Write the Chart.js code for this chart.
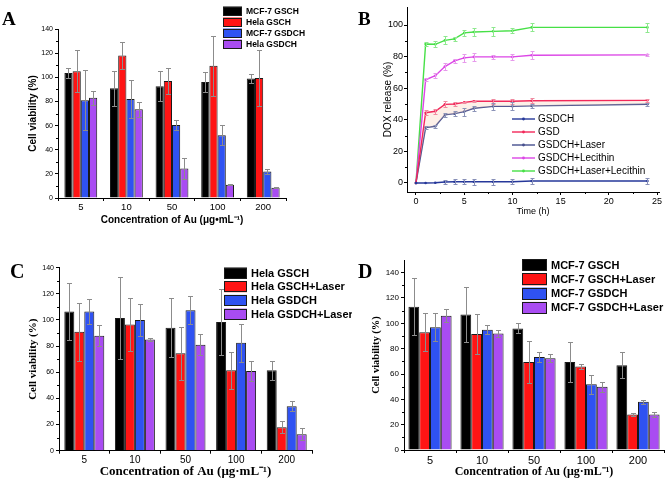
<!DOCTYPE html>
<html><head><meta charset="utf-8">
<script src="https://cdn.jsdelivr.net/npm/chart.js@4.4.1/dist/chart.umd.min.js"></script>
<style>
html,body{margin:0;padding:0;background:#fff;width:669px;height:482px;overflow:hidden;position:relative}
canvas{position:absolute;display:block;background:#fff}
</style></head><body>
<canvas id="cA" width="335" height="240" style="left:0;top:0"></canvas>
<canvas id="cB" width="334" height="240" style="left:335px;top:0"></canvas>
<canvas id="cC" width="352" height="242" style="left:0;top:240px"></canvas>
<canvas id="cD" width="317" height="242" style="left:352px;top:240px"></canvas>
<script>
// ---------------- DATA ----------------
const concentrations = ['5', '10', '50', '100', '200'];

// Panel A
const aNames = ['MCF-7 GSCH', 'Hela GSCH', 'MCF-7 GSDCH', 'Hela GSDCH'];
const aMcf7Gsch = [103.5, 91, 92.5, 96, 99];
const aMcf7GschErr = [4, 14.5, 12.5, 8, 4];
const aHelaGsch = [105, 118, 97, 109.5, 99.5];
const aHelaGschErr = [17.5, 11.5, 11, 25, 23.5];
const aMcf7Gsdch = [81, 82, 60.5, 52, 22];
const aMcf7GsdchErr = [25, 15.5, 4, 8.5, 2];
const aHelaGsdch = [83, 73.5, 24.5, 11, 8.5];
const aHelaGsdchErr = [6, 6, 8.5, 0.5, 0.3];

// Panel B
const bTimes = [0, 1, 2, 3, 4, 5, 6, 8, 10, 12, 24];
const bNames = ['GSDCH', 'GSD', 'GSDCH+Laser', 'GSDCH+Lecithin', 'GSDCH+Laser+Lecithin'];
const bGsdch = [0, 0, 0.2, 0.6, 0.8, 0.8, 0.8, 0.8, 0.8, 1.3, 1.3];
const bGsdchErr = [0, 0, 0, 1.5, 1.5, 1.5, 2, 2, 1.5, 2, 2];
const bGsd = [0, 44.5, 45.4, 49.8, 50, 51, 51.7, 51.7, 51.7, 52.1, 52.3];
const bGsdErr = [0, 1.5, 1.5, 2, 1, 0.5, 0.5, 1.5, 1.5, 1.5, 1];
const bLaser = [0, 35.1, 35.9, 43.1, 43.9, 45.2, 47.3, 48.5, 48.5, 48.8, 49.8];
const bLaserErr = [0, 1, 1, 1.5, 1.5, 2.5, 1.5, 2, 2.5, 1.5, 1];
const bLecithin = [0, 65.3, 67.9, 73.7, 77.3, 79.2, 79.8, 79.8, 79.8, 80.9, 81.1];
const bLecithinErr = [0, 1, 1.5, 2, 1.5, 2.5, 2.5, 1.5, 2, 2.5, 0.5];
const bLaserLecithin = [0, 88, 87.8, 90.3, 91.2, 95, 95.6, 96, 96.4, 98.5, 98.5];
const bLaserLecithinErr = [0, 1.5, 2, 2.5, 1.5, 2, 2.5, 3, 1.5, 2.5, 3];
const bYTicks = [0, 20, 40, 60, 80, 100];
const bXTicks = [0, 5, 10, 15, 20, 25];

// Panel C
const cNames = ['Hela GSCH', 'Hela GSCH+Laser', 'Hela GSDCH', 'Hela GSDCH+Laser'];
const cHelaGsch = [106.5, 101.5, 94, 98.5, 61.5];
const cHelaGschErr = [21.5, 31.5, 22.5, 25.5, 7.5];
const cHelaGschLaser = [91, 96.5, 74.5, 61.5, 18];
const cHelaGschLaserErr = [22, 20.5, 20.5, 14, 4.5];
const cHelaGsdch = [106.5, 100, 107.5, 82.5, 34];
const cHelaGsdchErr = [9.5, 12, 10.5, 14.5, 4];
const cHelaGsdchLaser = [88, 85, 81, 61, 12.5];
const cHelaGsdchLaserErr = [8, 1, 8, 7.5, 4.5];

// Panel D
const dNames = ['MCF-7 GSCH', 'MCF-7 GSCH+Laser', 'MCF-7 GSDCH', 'MCF-7 GSDCH+Laser'];
const dMcf7Gsch = [113, 107, 96, 69.5, 67];
const dMcf7GschErr = [22.5, 21.5, 4, 15.5, 10];
const dMcf7GschLaser = [93, 91.5, 69.5, 66, 28];
const dMcf7GschLaserErr = [15, 16, 16.5, 2, 1];
const dMcf7Gsdch = [97, 95, 73.5, 52, 38];
const dMcf7GsdchErr = [11, 3.5, 4, 7.5, 1.5];
const dMcf7GsdchLaser = [106, 92, 72.5, 50, 28];
const dMcf7GsdchLaserErr = [5, 3, 3, 4, 2];

// ---------------- STYLE / PLUGINS ----------------
const SANS = '"Liberation Sans", Arial, sans-serif';
const SERIF = '"Liberation Serif", "Times New Roman", serif';
const barColors = ['#000000', '#ff1414', '#2f52f2', '#a94cf2'];
const lineColors = ['#26389a', '#f2285a', '#46508e', '#dc46e6', '#46e046'];
const errLineColors = ['#8890b8', '#f08aa0', '#8c94b8', '#e79aec', '#8ee88e'];

Chart.defaults.font.family = SANS;
Chart.defaults.color = '#000';
Chart.defaults.animation = false;

const decor = {
  id: 'decor',
  afterDatasetsDraw(chart, args, o) {
    const ctx = chart.ctx, ys = chart.scales.y;
    ctx.save();
    chart.data.datasets.forEach((ds, i) => {
      if (!ds.errors) return;
      const meta = chart.getDatasetMeta(i);
      ctx.strokeStyle = ds.errorColor || '#8c8c8c';
      ctx.lineWidth = 1;
      meta.data.forEach((el, j) => {
        const e = ds.errors[j];
        if (!e) return;
        const raw = ds.data[j];
        const v = (typeof raw === 'object') ? raw.y : raw;
        const x = Math.round(el.x) + 0.5;
        const yt = Math.round(ys.getPixelForValue(v + e)) + 0.5;
        const yb = Math.round(ys.getPixelForValue(v - e)) + 0.5;
        const c = o.cap || 2.5;
        ctx.beginPath();
        ctx.moveTo(x, yt); ctx.lineTo(x, yb);
        ctx.moveTo(x - c, yt); ctx.lineTo(x + c, yt);
        ctx.moveTo(x - c, yb); ctx.lineTo(x + c, yb);
        ctx.stroke();
      });
    });
    ctx.restore();
  },
  afterDraw(chart, args, o) {
    const ctx = chart.ctx;
    ctx.save();
    // minor ticks
    ctx.strokeStyle = '#000'; ctx.lineWidth = 1;
    ctx.beginPath();
    const ys = chart.scales.y;
    const yt = ys.ticks;
    for (let k = 0; k < yt.length - 1; k++) {
      const py = Math.round(ys.getPixelForValue((yt[k].value + yt[k + 1].value) / 2)) + 0.5;
      ctx.moveTo(ys.right - 2, py); ctx.lineTo(ys.right, py);
    }
    if (o.minorX) {
      const xs = chart.scales.x, xt = xs.ticks;
      for (let k = 0; k < xt.length - 1; k++) {
        const px = Math.round(xs.getPixelForValue((xt[k].value + xt[k + 1].value) / 2)) + 0.5;
        ctx.moveTo(px, xs.top); ctx.lineTo(px, xs.top + 2);
      }
    }
    ctx.stroke();
    // legend
    const L = o.legend;
    ctx.textBaseline = 'middle'; ctx.textAlign = 'left';
    chart.data.datasets.forEach((ds, i) => {
      const y = L.y0 + i * L.dy;
      if (L.type === 'box') {
        ctx.fillStyle = ds.backgroundColor;
        ctx.fillRect(L.x, y - L.bh / 2, L.bw, L.bh);
        ctx.strokeStyle = '#1a1a1a'; ctx.lineWidth = 1;
        ctx.strokeRect(L.x + 0.5, Math.round(y - L.bh / 2) + 0.5, L.bw - 1, L.bh - 1);
      } else {
        ctx.strokeStyle = ds.borderColor; ctx.lineWidth = 1.4;
        ctx.beginPath(); ctx.moveTo(L.x, y); ctx.lineTo(L.x + L.bw, y); ctx.stroke();
        ctx.fillStyle = ds.borderColor;
        ctx.beginPath(); ctx.arc(L.x + L.bw / 2, y, 1.4, 0, Math.PI * 2); ctx.fill();
      }
      ctx.fillStyle = '#000';
      ctx.font = L.font;
      ctx.fillText(ds.label, L.tx, y + 0.5);
    });
    // panel letter
    ctx.font = 'bold ' + o.letterSize + 'px ' + SERIF;
    ctx.textBaseline = 'alphabetic';
    ctx.fillStyle = '#000';
    ctx.fillText(o.letter, o.lx, o.ly);
    ctx.restore();
  }
};

function axisGrid() {
  return { display: true, drawOnChartArea: false, drawTicks: true, tickLength: 3, color: '#000', tickColor: '#000', lineWidth: 1 };
}

function barChart(id, names, values, errors, o) {
  const datasets = names.map((n, i) => ({
    label: n, data: values[i], errors: errors[i],
    backgroundColor: barColors[i], borderColor: '#1a1a1a', borderWidth: 1,
    categoryPercentage: o.catPct, barPercentage: 1
  }));
  return new Chart(document.getElementById(id), {
    type: 'bar',
    data: { labels: concentrations, datasets },
    options: {
      responsive: false, animation: false,
      layout: { padding: o.pad },
      plugins: {
        legend: { display: false }, tooltip: { enabled: false },
        decor: { cap: 2.5, legend: o.legend, letter: o.letter, lx: o.lx, ly: o.ly, letterSize: o.letterSize }
      },
      scales: {
        x: {
          grid: Object.assign(axisGrid(), { offset: true }),
          border: { display: true, color: '#000', width: 1 },
          ticks: { font: { size: o.xTick, family: SANS }, padding: 1, maxRotation: 0, autoSkip: false, color: '#000' },
          title: { display: true, text: o.xTitle, font: o.xTitleFont, padding: 0, color: '#000' },
          afterFit: s => { s.height = o.xH; }
        },
        y: {
          min: 0, max: o.yMax,
          ticks: { stepSize: 20, font: { size: o.yTick, family: SANS }, padding: 2, color: '#000' },
          afterBuildTicks: s => { s.ticks = s.ticks.filter(t => t.value % 20 === 0); },
          grid: axisGrid(),
          border: { display: true, color: '#000', width: 1 },
          title: { display: true, text: 'Cell viability (%)', font: o.yTitleFont, padding: 0, color: '#000' },
          afterFit: s => { s.width = o.yW; }
        }
      }
    },
    plugins: [decor]
  });
}

// Panel A
barChart('cA', aNames,
  [aMcf7Gsch, aHelaGsch, aMcf7Gsdch, aHelaGsdch],
  [aMcf7GschErr, aHelaGschErr, aMcf7GsdchErr, aHelaGsdchErr],
  { catPct: 0.72, pad: { left: 27, top: 29, right: 49, bottom: 13.5 }, yW: 31, xH: 28.5, yMax: 140,
    xTick: 9.5, yTick: 7,
    xTitle: 'Concentration of Au (μg•mL⁻¹)', xTitleFont: { family: SANS, weight: 'bold', size: 10 },
    yTitleFont: { family: SANS, weight: 'bold', size: 10 },
    legend: { type: 'box', x: 223, y0: 11, dy: 11, bw: 19, bh: 9, tx: 246, font: 'bold 8.5px ' + SANS },
    letter: 'A', lx: 2, ly: 25, letterSize: 19 });

// Panel C
barChart('cC', cNames,
  [cHelaGsch, cHelaGschLaser, cHelaGsdch, cHelaGsdchLaser],
  [cHelaGschErr, cHelaGschLaserErr, cHelaGsdchErr, cHelaGsdchLaserErr],
  { catPct: 0.79, pad: { left: 26.4, top: 27.7, right: 40, bottom: 2.2 }, yW: 32.6, xH: 29.1, yMax: 140,
    xTick: 10, yTick: 7,
    xTitle: 'Concentration of Au (μg·mL⁻¹)', xTitleFont: { family: SERIF, weight: 'bold', size: 13 },
    yTitleFont: { family: SERIF, weight: 'bold', size: 11 },
    legend: { type: 'box', x: 224, y0: 33, dy: 13.7, bw: 23, bh: 11, tx: 251, font: 'bold 11px ' + SANS },
    letter: 'C', lx: 10, ly: 38, letterSize: 20 });

// Panel D
barChart('cD', dNames,
  [dMcf7Gsch, dMcf7GschLaser, dMcf7Gsdch, dMcf7GsdchLaser],
  [dMcf7GschErr, dMcf7GschLaserErr, dMcf7GsdchErr, dMcf7GsdchLaserErr],
  { catPct: 0.83, pad: { left: 17.7, top: 20, right: 5, bottom: 3.3 }, yW: 34.3, xH: 28.7, yMax: 150,
    xTick: 11, yTick: 8,
    xTitle: 'Concentration of Au (μg·mL⁻¹)', xTitleFont: { family: SERIF, weight: 'bold', size: 12 },
    yTitleFont: { family: SERIF, weight: 'bold', size: 10.5 },
    legend: { type: 'box', x: 170, y0: 25, dy: 14.3, bw: 25, bh: 12, tx: 199, font: 'bold 11px ' + SANS },
    letter: 'D', lx: 6, ly: 38, letterSize: 20 });

// Panel B
const bSeries = [bGsdch, bGsd, bLaser, bLecithin, bLaserLecithin];
const bErrors = [bGsdchErr, bGsdErr, bLaserErr, bLecithinErr, bLaserLecithinErr];
const bDatasets = bNames.map((n, i) => ({
  label: n,
  data: bTimes.map((t, k) => ({ x: t, y: bSeries[i][k] })),
  errors: bErrors[i], errorColor: errLineColors[i],
  borderColor: lineColors[i], borderWidth: 1.4,
  pointRadius: 1.3, pointBackgroundColor: lineColors[i], pointBorderWidth: 0,
  tension: 0,
  fill: i === 1 ? { target: 2 } : false,
  backgroundColor: i === 1 ? 'rgba(250,205,180,0.3)' : lineColors[i]
}));
new Chart(document.getElementById('cB'), {
  type: 'line',
  data: { datasets: bDatasets },
  options: {
    responsive: false, animation: false,
    layout: { padding: { left: 47.5, top: 7, right: 10, bottom: 23.1 } },
    plugins: {
      legend: { display: false }, tooltip: { enabled: false },
      decor: { cap: 2, minorX: true,
        legend: { type: 'line', x: 177, y0: 119, dy: 13, bw: 23, tx: 203, font: '10px ' + SANS },
        letter: 'B', lx: 23, ly: 25, letterSize: 19 }
    },
    scales: {
      x: {
        type: 'linear', min: -0.93, max: 25.2,
        afterBuildTicks: s => { s.ticks = bXTicks.map(v => ({ value: v })); },
        grid: axisGrid(),
        border: { display: true, color: '#000', width: 1 },
        ticks: { font: { size: 9 }, padding: 1, maxRotation: 0, color: '#000' },
        title: { display: true, text: 'Time (h)', font: { size: 9 }, padding: 0, color: '#000' },
        afterFit: s => { s.height = 24.9; }
      },
      y: {
        type: 'linear', min: -5.7, max: 111.4,
        afterBuildTicks: s => { s.ticks = bYTicks.map(v => ({ value: v })); },
        grid: axisGrid(),
        border: { display: true, color: '#000', width: 1 },
        ticks: { font: { size: 9 }, padding: 1, color: '#000' },
        title: { display: true, text: 'DOX release (%)', font: { size: 10 }, padding: 0, color: '#000' },
        afterFit: s => { s.width = 24.5; }
      }
    }
  },
  plugins: [decor]
});
</script>
</body></html>
